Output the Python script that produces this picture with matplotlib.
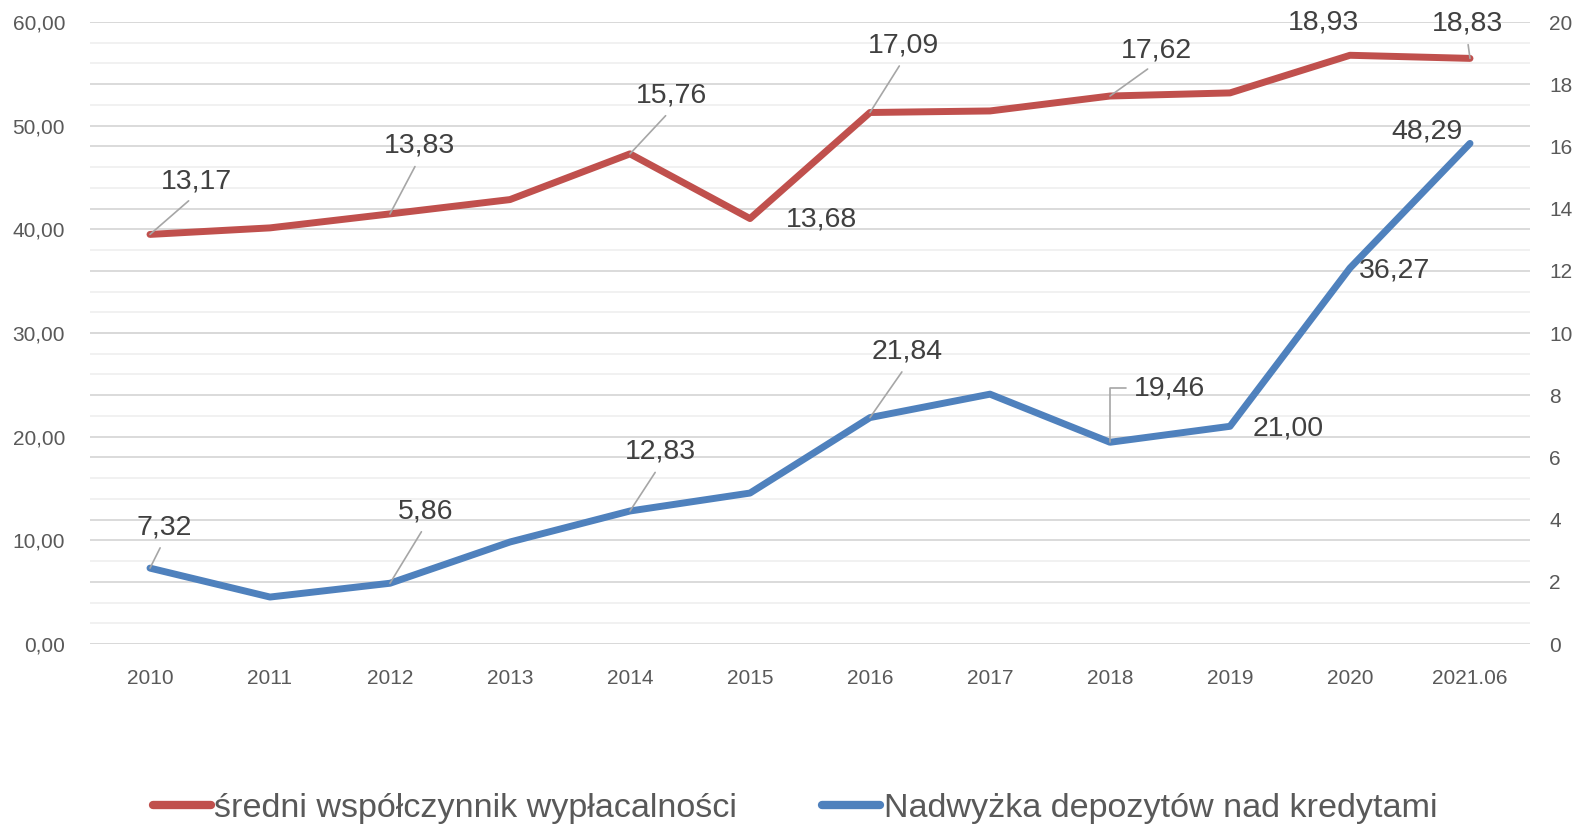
import matplotlib
matplotlib.use("Agg")
import matplotlib.pyplot as plt
from matplotlib.ticker import FuncFormatter, MultipleLocator

years = ['2010', '2011', '2012', '2013', '2014', '2015', '2016', '2017', '2018', '2019', '2020', '2021.06']
solvency = [13.17, 13.38, 13.83, 14.29, 15.76, 13.68, 17.09, 17.14, 17.62, 17.72, 18.93, 18.83]
surplus = [7.32, 4.53, 5.86, 9.84, 12.83, 14.56, 21.84, 24.10, 19.46, 21.00, 36.27, 48.29]
solvency_name = 'średni współczynnik wypłacalności'
surplus_name = 'Nadwyżka depozytów nad kredytami'

# label placement: index -> (dx px, dy px, leader style)
red_labels = {0: (46, 53, 'line'), 2: (29, 68, 'line'), 4: (42, 58, 'line'), 5: (71, -1, None),
              6: (34, 67, 'line'), 8: (46, 46, 'line'), 10: (-26, 33, None), 11: (-3, 35, 'line')}
blue_labels = {0: (14, 41, 'line'), 2: (36, 72, 'line'), 4: (30, 59, 'line'), 6: (37, 66, 'line'),
               8: (59, 54, 'elbow'), 9: (58, -2, None), 10: (45, -2, None), 11: (-43, 12, None)}

RED = '#C0504D'
BLUE = '#4F81BD'
TXT = '#404040'
TICK = '#595959'

plt.rcParams['font.family'] = ['Liberation Sans', 'DejaVu Sans']

fig = plt.figure(figsize=(15.8, 8.33), dpi=100)
ax = fig.add_axes([90 / 1580, 189 / 833, 1440 / 1580, 622 / 833])
ax2 = ax.twinx()

x = list(range(len(years)))

ax.set_xlim(-0.5, len(years) - 0.5)
ax.set_ylim(0, 60)
ax2.set_ylim(0, 20)
scale = 60 / 20

# gridlines all on the bottom axes: light every 2 (left), darker at majors of both axes
for v in range(0, 61, 2):
    ax.axhline(v, color='#f0f0f0', lw=1.3, zorder=0)
for v in range(0, 61, 10):
    ax.axhline(v, color='#d9d9d9', lw=1.3, zorder=0)
for v in range(0, 21, 2):
    ax.axhline(v * scale, color='#d9d9d9', lw=1.3, zorder=0)

ax.plot(x, surplus, color=BLUE, lw=5, solid_capstyle='round', solid_joinstyle='round', zorder=3)
ax2.plot(x, solvency, color=RED, lw=5, solid_capstyle='round', solid_joinstyle='round', zorder=3)

ax.yaxis.set_major_locator(MultipleLocator(10))
ax.yaxis.set_major_formatter(FuncFormatter(lambda v, p: f'{v:.2f}'.replace('.', ',')))
ax2.yaxis.set_major_locator(MultipleLocator(2))
ax2.yaxis.set_major_formatter(FuncFormatter(lambda v, p: f'{v:.0f}'))
ax.set_xticks(x)
ax.set_xticklabels(years)

for a in (ax, ax2):
    for s in a.spines.values():
        s.set_visible(False)
    a.tick_params(length=0, labelsize=15, colors=TICK)
ax.tick_params(axis='y', pad=18)
ax2.tick_params(axis='y', pad=14)
ax.tick_params(axis='x', pad=18)


def add_labels(src_axis, values, specs):
    for i, (dx, dy, style) in specs.items():
        txt = f'{values[i]:.2f}'.replace('.', ',')
        props = None
        if style == 'line':
            props = dict(arrowstyle='-', color='#a6a6a6', lw=1.2, shrinkA=4, shrinkB=0,
                         relpos=(0.5, 0.0))
        elif style == 'elbow':
            props = dict(arrowstyle='-', color='#a6a6a6', lw=1.2, shrinkA=3, shrinkB=0,
                         relpos=(0.0, 0.5), connectionstyle='angle,angleA=0,angleB=90,rad=0')
        ax2.annotate(txt, xy=(i, values[i]), xycoords=src_axis.transData,
                     xytext=(dx, dy), textcoords='offset pixels',
                     ha='center', va='center', fontsize=20.5, color=TXT,
                     arrowprops=props, zorder=5)


add_labels(ax2, solvency, red_labels)
add_labels(ax, surplus, blue_labels)

h1, = ax.plot([], [], color=RED, lw=6, solid_capstyle='round')
h2, = ax.plot([], [], color=BLUE, lw=6, solid_capstyle='round')
leg = fig.legend([h1, h2], [solvency_name, surplus_name], loc='center',
                 bbox_to_anchor=(795 / 1580, 1 - 808 / 833), ncol=2, frameon=False,
                 handlelength=1.7, handletextpad=0.1, columnspacing=2.5,
                 prop={'family': ['Liberation Sans'], 'size': 24.6})
for t in leg.get_texts():
    t.set_color(TICK)

fig.savefig('out.png', dpi=100)
